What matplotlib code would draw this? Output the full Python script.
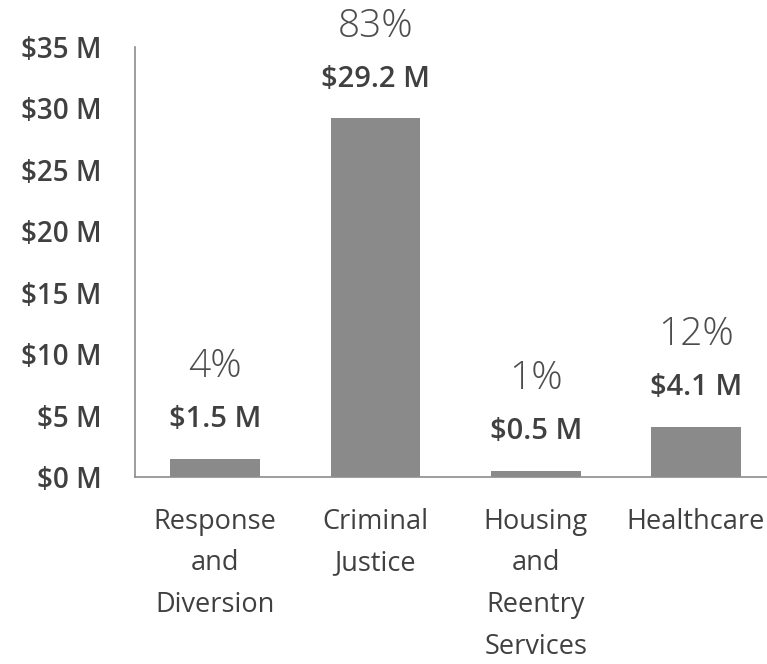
import matplotlib
matplotlib.use("Agg")
import matplotlib.pyplot as plt

categories = ["Response\nand\nDiversion", "Criminal\nJustice", "Housing\nand\nReentry\nServices", "Healthcare"]
values = [1.5, 29.2, 0.5, 4.1]
value_labels = ["$1.5 M", "$29.2 M", "$0.5 M", "$4.1 M"]
shares = ["4%", "83%", "1%", "12%"]
yticks = [0, 5, 10, 15, 20, 25, 30, 35]

plt.rcParams['font.family'] = ['Open Sans', 'DejaVu Sans']

fig = plt.figure(figsize=(7.67, 6.64), dpi=100)
ax = fig.add_axes([0.176, 0.2816, 0.836, 0.6476])

x = range(len(categories))
ax.bar(x, values, width=0.56, color='#8a8a8a')

for i, v in enumerate(values):
    ax.annotate(value_labels[i], (i, v), xytext=(0, 28), textcoords='offset points',
                ha='center', va='center', fontsize=21, fontweight='semibold', color='#404040')
    ax.annotate(shares[i], (i, v), xytext=(0, 66), textcoords='offset points',
                ha='center', va='center', fontsize=28, fontweight='light', color='#4d4d4d',
                annotation_clip=False)

ax.set_xlim(-0.5, 3.5)
ax.set_ylim(0, 35)
ax.set_yticks(yticks)
ax.set_yticklabels([f"${t} M" for t in yticks], fontsize=20, fontweight='semibold', color='#404040')
ax.set_xticks(list(x))
ax.set_xticklabels(categories, fontsize=19.5, color='#404040', linespacing=1.66, va='top')
ax.tick_params(axis='both', length=0)
ax.tick_params(axis='y', pad=24)
ax.tick_params(axis='x', pad=22)
for s in ['top', 'right']:
    ax.spines[s].set_visible(False)
ax.spines['left'].set_color('#8c8c8c')
ax.spines['bottom'].set_color('#8c8c8c')
ax.spines['left'].set_linewidth(1.2)
ax.spines['bottom'].set_linewidth(1.2)

fig.savefig('out.png', dpi=100)
